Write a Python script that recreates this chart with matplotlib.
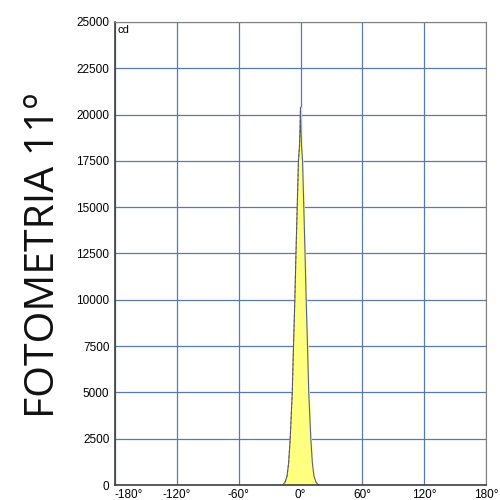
import numpy as np
import matplotlib.pyplot as plt

# half of the beam (0° .. edge), mirrored for negative angles
half_angles = [0, 0.5, 1, 2, 3.2, 4.4, 5.5, 6.8, 8, 10, 11.5, 13, 15, 17, 18.5]
half_cd = [20400, 19200, 18300, 17500, 15000, 12500, 10000, 7500, 5000, 2500,
           1200, 500, 150, 20, 0]

x_ticks = [-180, -120, -60, 0, 60, 120, 180]
y_ticks = list(range(0, 25001, 2500))

angles = np.concatenate([-np.array(half_angles[::-1]), np.array(half_angles[1:])])
cd = np.concatenate([np.array(half_cd[::-1]), np.array(half_cd[1:])])

fig = plt.figure(figsize=(5, 5), dpi=100)
ax = fig.add_axes([0.23, 0.03, 0.742, 0.926])

ax.fill_between(angles, 0, cd, color="#ffff80", zorder=2)
left = angles <= 0
ax.plot(angles[left], cd[left], color="#c05050", linewidth=0.7,
        linestyle=(0, (3, 2)), zorder=3, alpha=0.8)
ax.plot(angles, cd, color="#3a4a78", linewidth=0.8, zorder=4, alpha=0.85)

ax.set_xlim(-180, 180)
ax.set_ylim(0, 25000)
ax.set_xticks(x_ticks)
labels = ax.set_xticklabels([f"{t}°" for t in x_ticks], family="Liberation Sans",
                            fontsize=8.5)
labels[0].set_horizontalalignment("left")
ax.set_yticks(y_ticks)
ax.set_yticklabels([str(t) for t in y_ticks], family="Liberation Sans", fontsize=8.5)
ax.tick_params(axis="x", length=0, pad=3)
ax.tick_params(axis="y", length=0, pad=4)
ax.grid(True, color="#5a78b0", linewidth=0.9, zorder=1)
ax.set_axisbelow(True)
for side in ["left", "bottom"]:
    ax.spines[side].set_color("#404040")
    ax.spines[side].set_linewidth(1.2)
for side in ["top", "right"]:
    ax.spines[side].set_color("#808080")
    ax.spines[side].set_linewidth(0.8)

ax.text(0.008, 0.993, "cd", transform=ax.transAxes, ha="left", va="top",
        family="Liberation Sans", fontsize=8)

fig.text(0.088, 0.49, "FOTOMETRIA 11º", rotation=90, ha="center", va="center",
         family="Open Sans", fontsize=29.5, color="#111111")

fig.savefig("out.png", dpi=100)
